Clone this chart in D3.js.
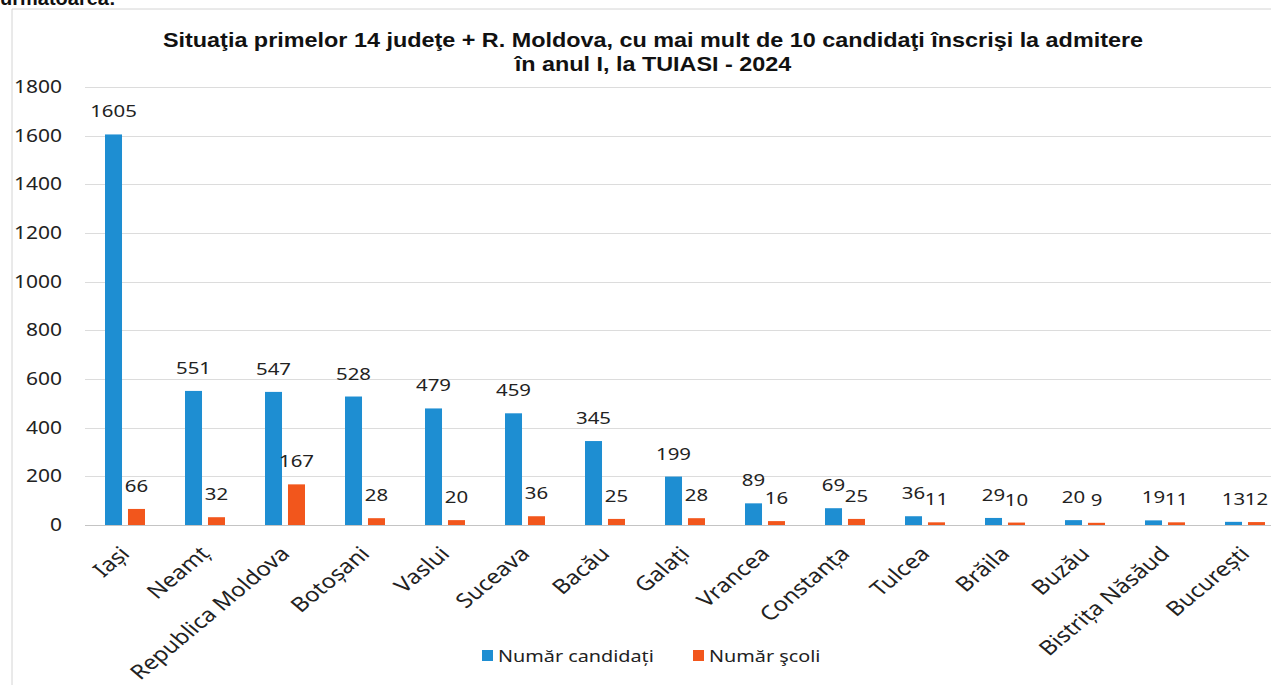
<!DOCTYPE html>
<html>
<head>
<meta charset="utf-8">
<script src="https://cdn.jsdelivr.net/npm/d3@7"></script>
<style>
  body { margin: 0; background: #fff; }
  svg { display: block; }
</style>
</head>
<body>
<svg class="chart" width="1271" height="685"></svg>
<script>
const categories = ['Iași', 'Neamț', 'Republica Moldova', 'Botoșani', 'Vaslui', 'Suceava', 'Bacău', 'Galați',
  'Vrancea', 'Constanța', 'Tulcea', 'Brăila', 'Buzău', 'Bistrița Năsăud', 'București'];
const candidati = [1605, 551, 547, 528, 479, 459, 345, 199, 89, 69, 36, 29, 20, 19, 13];
const scoli = [66, 32, 167, 28, 20, 36, 25, 28, 16, 25, 11, 10, 9, 11, 12];
const seriesNames = ['Număr candidați', 'Număr şcoli'];
const seriesColors = ['#1e8ed2', '#f2561c'];
const yTicks = [0, 200, 400, 600, 800, 1000, 1200, 1400, 1600, 1800];
const titleLines = ['Situaţia primelor 14 judeţe + R. Moldova, cu mai mult de 10 candidaţi înscrişi la admitere',
  'în anul I, la TUIASI - 2024'];

const font = '"Noto Sans", "Open Sans", sans-serif';
const sx = 1.2; // the scanned picture is stretched sideways
const svg = d3.select('.chart');

// cut-off text from the page above the chart
svg.append('text')
  .attr('x', 0).attr('y', 5)
  .attr('font-family', '"Liberation Sans", Arial, sans-serif')
  .attr('font-weight', 'bold')
  .attr('font-size', 20)
  .attr('fill', '#111')
  .text('următoarea:');

// chart frame
svg.append('path')
  .attr('d', 'M12 685 L12 9 L1271 9')
  .attr('fill', 'none')
  .attr('stroke', '#d4d4d4')
  .attr('stroke-width', 1);

/*
 ** Scales
 */
const xScale = d3.scaleBand()
  .domain(categories)
  .range([85, 85 + 80 * categories.length])
  .padding(0);

const xSub = d3.scaleBand()
  .domain(seriesNames)
  .range([-20, 20])
  .paddingInner(0.26);

const yScale = d3.scaleLinear()
  .domain([0, 1800])
  .range([525, 87]);

/*
 ** Title
 */
svg.append('g')
  .selectAll('text')
  .data(titleLines)
  .enter()
  .append('text')
  .attr('transform', (d, i) => `translate(653, ${47 + i * 24}) scale(${sx}, 1)`)
  .attr('text-anchor', 'middle')
  .attr('font-family', '"Liberation Sans", Arial, sans-serif')
  .attr('font-weight', 'bold')
  .attr('font-size', 19.5)
  .attr('fill', '#111')
  .text(d => d);

/*
 ** Grid + y axis
 */
const grid = svg.append('g');
grid.selectAll('line')
  .data(yTicks)
  .enter()
  .append('line')
  .attr('x1', 85)
  .attr('x2', 1271)
  .attr('y1', d => Math.round(yScale(d)) + 0.5)
  .attr('y2', d => Math.round(yScale(d)) + 0.5)
  .attr('stroke', d => d === 0 ? '#c4c4c4' : '#dcdcdc')
  .attr('stroke-width', 1.2);

grid.selectAll('text')
  .data(yTicks)
  .enter()
  .append('text')
  .attr('transform', d => `translate(62, ${yScale(d)}) scale(${sx}, 1)`)
  .attr('dy', '0.35em')
  .attr('text-anchor', 'end')
  .attr('font-family', font)
  .attr('font-size', 17.5)
  .attr('fill', '#222')
  .text(d => d);

/*
 ** Bars
 */
const rows = categories.map((c, i) => ({ cat: c, values: [candidati[i], scoli[i]] }));

const groups = svg.append('g')
  .selectAll('g.cat')
  .data(rows)
  .enter()
  .append('g')
  .attr('class', 'cat')
  .attr('transform', d => `translate(${xScale(d.cat) + xScale.bandwidth() / 2}, 0)`);

groups.selectAll('rect')
  .data(d => d.values.map((v, k) => ({ v, k })))
  .enter()
  .append('rect')
  .attr('x', d => xSub(seriesNames[d.k]))
  .attr('width', xSub.bandwidth())
  .attr('y', d => yScale(d.v))
  .attr('height', d => yScale(0) - yScale(d.v))
  .attr('fill', d => seriesColors[d.k]);

groups.selectAll('text')
  .data(d => d.values.map((v, k) => ({ v, k })))
  .enter()
  .append('text')
  .attr('transform', d => `translate(${xSub(seriesNames[d.k]) + xSub.bandwidth() / 2}, ${yScale(d.v) - 17}) scale(${sx}, 1)`)
  .attr('text-anchor', 'middle')
  .attr('font-family', font)
  .attr('font-size', 17)
  .attr('fill', '#222')
  .text(d => d.v);

/*
 ** X axis labels
 */
svg.append('g')
  .selectAll('text')
  .data(categories)
  .enter()
  .append('text')
  .attr('transform', d => `translate(${xScale(d) + xScale.bandwidth() / 2 + 6}, 555) scale(${sx}, 1) rotate(-45)`)
  .attr('text-anchor', 'end')
  .attr('font-family', font)
  .attr('font-size', 20)
  .attr('fill', '#222')
  .text(d => d);

/*
 ** Legend
 */
const legendX = [482, 693];
const legend = svg.append('g')
  .selectAll('g')
  .data(seriesNames)
  .enter()
  .append('g')
  .attr('transform', (d, i) => `translate(${legendX[i]}, 662)`);

legend.append('rect')
  .attr('y', -12)
  .attr('width', 11)
  .attr('height', 11)
  .attr('fill', (d, i) => seriesColors[i]);

legend.append('text')
  .attr('transform', `translate(16, 0) scale(${sx}, 1)`)
  .attr('font-family', font)
  .attr('font-size', 16.5)
  .attr('fill', '#222')
  .text(d => d);
</script>
</body>
</html>
